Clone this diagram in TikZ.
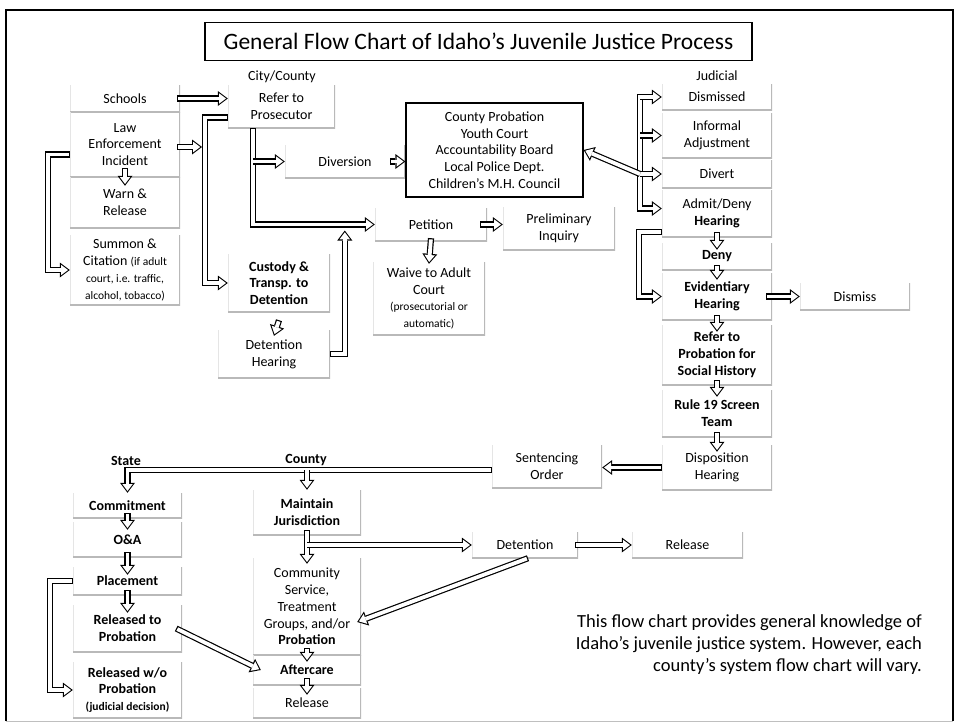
\documentclass[tikz,border=0pt]{standalone}
\usepackage{fontspec}
\setmainfont{Carlito}
\usetikzlibrary{arrows.meta,calc}
\newcommand\bx{\fontsize{14}{16.8}\selectfont}
\newcommand\smtxt{\fontsize{11.5}{14.5}\selectfont}
\tikzset{
  box/.style={rectangle, inner sep=2pt, align=center, font=\bx, minimum width=110pt,
    path picture={
      \draw[gray!20, line width=1.6pt] (path picture bounding box.north west) -- (path picture bounding box.south west);
      \draw[gray!55, line width=2.4pt] (path picture bounding box.north east) -- (path picture bounding box.south east) -- (path picture bounding box.south west);}},
  cbox/.style={draw, line width=1.3pt, align=center, font=\bx, minimum width=177pt, minimum height=94pt},
  lbl/.style={inner sep=1pt, font=\bx},
  flowx/.style={line width=6.2pt, -{Triangle[length=10pt,width=15pt,line width=0pt]},
    postaction={draw=white, line width=3.8pt, shorten <=#1, shorten >=1.8pt,
      -{Triangle[length=7pt,width=10.5pt,line width=0pt]}}},
  flow/.style={flowx=1.2pt},
  flowo/.style={flowx=0pt}
}
\begin{document}
\begin{tikzpicture}[x=1pt,y=-1pt]
      \useasboundingbox (0,0) rectangle (957,725);
      \draw[line width=1.6pt] (6,721) -- (6,10) -- (953,10) -- (953,721);
      \draw[gray!50, line width=1pt] (6,721) -- (953,721);
      \node[draw, line width=1.4pt, minimum width=547pt, minimum height=38pt, font=\fontsize{23.5}{27}\selectfont] (title) at (478.5,41.5) {General Flow Chart of Idaho’s Juvenile Justice Process};
      % intake
      \node[box, minimum height=27pt] (sch) at (125,98.5) {Schools};
      \node[box, minimum height=65pt] (law) at (125,144.5) {Law\\Enforcement\\Incident};
      \node[box, minimum height=51pt] (warn) at (125,202.5) {Warn \&\\Release};
      \node[box, minimum height=70pt] (sum) at (125,270) {Summon \&\\Citation {\smtxt (if adult}\\{\smtxt court, i.e. traffic,}\\{\smtxt alcohol, tobacco)}};
      \node[lbl] (cc) at (282,77) {City/County};
      \node[box, minimum width=107pt, minimum height=43pt] (ref) at (281.5,106.5) {Refer to\\Prosecutor};
      \node[box, minimum width=102pt, minimum height=58pt, font=\bx\bfseries] (cus) at (279,283) {Custody \&\\Transp. to\\Detention};
      \node[box, minimum width=112pt, minimum height=48pt] (dh) at (274,354) {Detention\\Hearing};
      \node[box, minimum width=120pt, minimum height=33pt] (div) at (345,161.5) {Diversion};
      \node[cbox] (cp) at (494.5,150) {County Probation\\Youth Court\\Accountability Board\\Local Police Dept.\\Children’s M.H. Council};
      \node[box, minimum width=112pt, minimum height=33pt] (pet) at (431,224.5) {Petition};
      \node[box, minimum width=112pt, minimum height=43pt] (pi) at (559,228.5) {Preliminary\\Inquiry};
      \node[box, minimum width=112pt, minimum height=73pt] (wav) at (429,298.5) {Waive to Adult\\Court\\{\smtxt (prosecutorial or}\\{\smtxt automatic)}};
      \coordinate (cbar) at (205,117.5);
      \coordinate (pbar) at (253,128);
      % judicial
      \node[lbl] (jl) at (717,76) {Judicial};
      \node[box, minimum height=26pt] (jd) at (717,97) {Dismissed};
      \node[box, minimum height=45pt] (ia) at (717,135.5) {Informal\\Adjustment};
      \node[box, minimum height=28pt] (dv) at (717,174) {Divert};
      \node[box, minimum height=47pt] (ad) at (717,213.5) {Admit/Deny\\\textbf{Hearing}};
      \node[box, minimum height=27pt, font=\bx\bfseries] (dn) at (717,256.5) {Deny};
      \node[box, minimum height=47pt, font=\bx\bfseries] (eh) at (717,296.5) {Evidentiary\\Hearing};
      \node[box, minimum height=60pt, font=\bx\bfseries] (rp) at (717,355) {Refer to\\Probation for\\Social History};
      \node[box, minimum height=47pt, font=\bx\bfseries] (r19) at (717,413.5) {Rule 19 Screen\\Team};
      \node[box, minimum height=45pt] (dsh) at (717,467.5) {Disposition\\Hearing};
      \node[box, minimum height=27pt] (dms) at (855,296.5) {Dismiss};
      \node[box, minimum height=43pt] (so) at (547,466.5) {Sentencing\\Order};
      \coordinate (jbar) at (640,94);
      % sentencing
      \node[lbl, font=\bx\bfseries] (st) at (126,461) {State};
      \node[lbl, font=\bx\bfseries] (cy) at (306,460) {County};
      \node[box, minimum width=109pt, minimum height=25pt, font=\bx\bfseries] (com) at (127.5,505.5) {Commitment};
      \node[box, minimum width=109pt, minimum height=35pt, font=\bx\bfseries] (oa) at (127.5,539.5) {O\&A};
      \node[box, minimum width=109pt, minimum height=28pt, font=\bx\bfseries] (pl) at (127.5,581) {Placement};
      \node[box, minimum width=109pt, minimum height=47pt, font=\bx\bfseries] (rtp) at (127.5,628.5) {Released to\\Probation};
      \node[box, minimum width=109pt, minimum height=56pt, font=\bx\bfseries] (rwo) at (127.5,690) {Released w/o\\Probation\\{\smtxt (judicial decision)}};
      \node[box, minimum width=108pt, minimum height=45pt, font=\bx\bfseries] (mj) at (307,512.5) {Maintain\\Jurisdiction};
      \node[box, minimum width=108pt, minimum height=97pt] (cs) at (307,606.5) {Community\\Service,\\Treatment\\Groups, and/or\\\textbf{Probation}};
      \node[box, minimum width=108pt, minimum height=30pt, font=\bx\bfseries] (ac) at (307,670) {Aftercare};
      \node[box, minimum width=108pt, minimum height=30pt] (rel) at (307,703) {Release};
      \node[box, minimum width=106pt, minimum height=26pt] (det) at (525,545) {Detention};
      \node[box, minimum width=111pt, minimum height=26pt] (rel2) at (687.5,545) {Release};
      \node[anchor=north east, align=right, inner sep=0pt, font=\fontsize{18.5}{22}\selectfont] (note) at (922,614) {This flow chart provides general knowledge of\\Idaho’s juvenile justice system. However, each\\county’s system flow chart will vary.};
      % connectors
      \draw[flow] ([xshift=-3pt]sch.east) -- (ref.west |- sch.east);
      \draw[flow] ([yshift=-11pt]ref.west) -- (cbar) |- (cus.west);
      \draw[flow] ([xshift=-3pt,yshift=-2.5pt]law.east) -- ($(cbar |- law.east)+(-3,2.5)$);
      \draw[flow] ([yshift=-10pt]law.west) -- ++(-22,0) |- (sum.west);
      \draw[flow] ([yshift=9pt]law.south) -- ([yshift=-9pt]warn.north);
      \draw[flow] ([yshift=-8pt]cus.south) -- ([yshift=-6pt]dh.north);
      \draw[flow] (dh.east) -| ($(pet.west)+(-30,6)$);
      \draw[flow] (pbar) |- (pet.west);
      \draw[flowo] (pbar |- div.west) -- (div.west);
      \draw[flow] ([xshift=-15pt]div.east) -- (cp.west |- div.east);
      \draw[flow] ([xshift=-7pt]pet.east) -- (pi.west |- pet.east);
      \draw[flow] ([yshift=3pt]pet.south) -- ([yshift=-2pt]wav.north);
      \draw[flow] (jbar) |- ([yshift=5pt]ad.west);
      \foreach \n in {jd,ia,dv}
        \draw[flowo] (jbar |- \n.west) -- (\n.west);
      \draw[flowo] (jbar |- dv.west) -- (cp.east);
      \draw[flow] ([yshift=-18.5pt]ad.west) -- ++(-23,0) |- (eh.west);
      \foreach \p/\q in {ad/dn,dn/eh,eh/rp,rp/r19,r19/dsh}
        \draw[flow] ([yshift=5pt]\p.south) -- ([yshift=-7pt]\q.north);
      \draw[flow] ([xshift=-6pt]eh.east) -- (dms.west |- eh.east);
      \draw[flow] (dsh.west) -- (so.east |- dsh.west);
      \draw[flow] ([yshift=-3.5pt]so.west) -| (com.north);
      \draw[flowo] ($(mj.north |- so.west)+(0,3.5)$) -- (mj.north);
      \foreach \p/\q in {com/oa,oa/pl,pl/rtp}
        \draw[flow] ([yshift=5pt]\p.south) -- ([yshift=-8pt]\q.north);
      \draw[flow] (pl.west) -- ++(-23,0) |- (rwo.west);
      \draw[flow] ([xshift=-6pt]rtp.east) -- ([xshift=8pt]ac.west);
      \draw[flow] ([yshift=5pt]mj.south) -- ([yshift=-6pt]cs.north);
      \draw[flowo] (mj.south |- det.west) -- (det.west);
      \draw[flow] ([xshift=-3pt]det.east) -- (rel2.west);
      \draw[flow] ([xshift=3pt]det.south) -- ([xshift=-4pt,yshift=-15.5pt]cs.east);
      \foreach \p/\q in {cs/ac,ac/rel}
        \draw[flow] ([yshift=7pt]\p.south) -- ([yshift=-7pt]\q.north);
    \end{tikzpicture}
\end{document}
